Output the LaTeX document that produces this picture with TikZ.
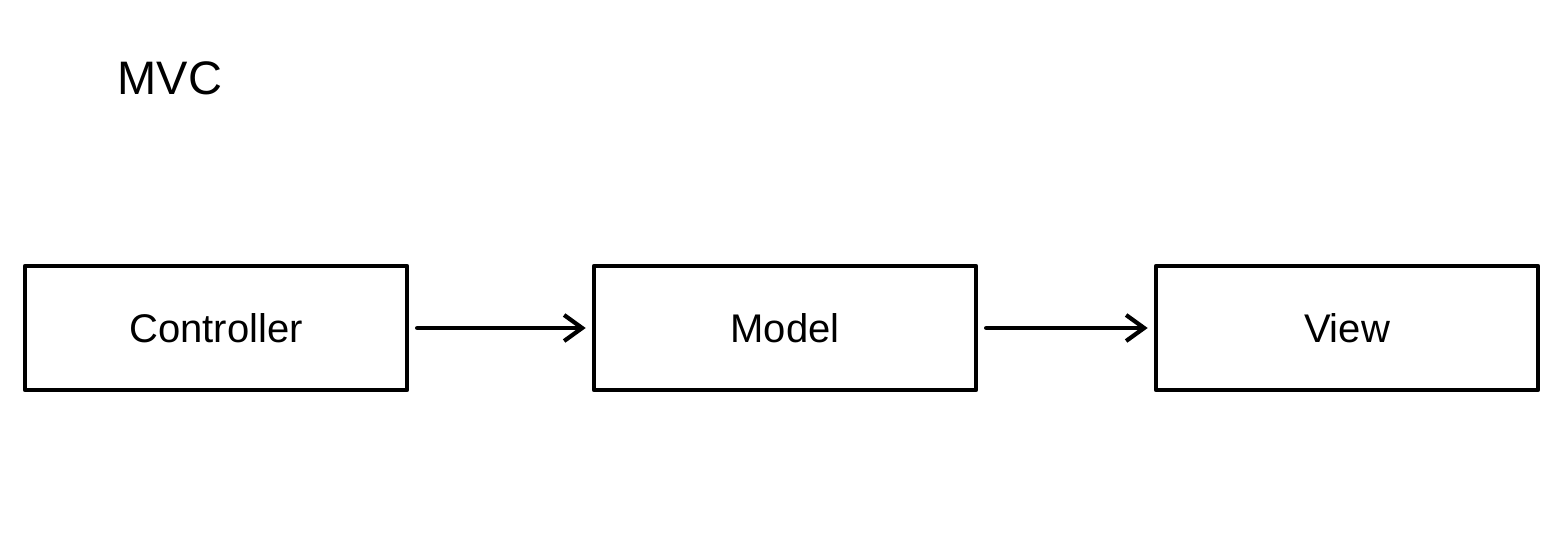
\documentclass[tikz,border=0pt]{standalone}
\usepackage{fontspec}
\setmainfont{Liberation Sans}
\usetikzlibrary{arrows.meta}
\begin{document}
\begin{tikzpicture}[x=1pt,y=-1pt,
  ink/.style={line width=4.6pt,line join=round,line cap=round,black},
  block/.style={ink,draw,fill=white,minimum width=382pt,minimum height=124pt,
    inner sep=0pt,font=\fontsize{40}{48}\selectfont},
  link/.style={ink,-{Straight Barb[length=18pt,width=26pt,line width=4.2pt]},shorten >=6pt,shorten <=8pt},
  title/.style={font=\fontsize{47}{56}\selectfont,inner sep=0pt}]
  \useasboundingbox (0,0) rectangle (1567,536);
  \node[title] (mvc) at (170,78) {MVC};
  \node[block] (ctrl)  at (216,328) {Controller};
  \node[block] (model) at (785,328) {Model};
  \node[block] (view)  at (1347,328) {View};
  \draw[link] (ctrl) -- (model);
  \draw[link] (model) -- (view);
\end{tikzpicture}
\end{document}
